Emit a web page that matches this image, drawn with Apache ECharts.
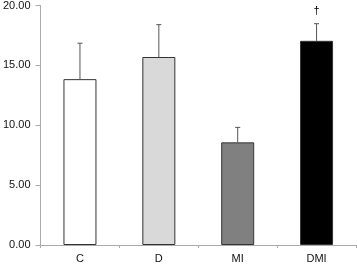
<!DOCTYPE html>
<html>
<head>
<meta charset="utf-8">
<style>html,body{margin:0;padding:0;background:#fff}#c{width:357px;height:264px}</style>
<script src="https://cdn.jsdelivr.net/npm/echarts@6/dist/echarts.min.js"></script>
</head>
<body>
<div id="c"></div>
<script>
const categories = ['C', 'D', 'MI', 'DMI'];
const means = [13.85, 15.7, 8.57, 17.05];
const errorTops = [16.85, 18.4, 9.82, 18.48];
const marks = ['', '', '', '†'];
const barColors = ['#ffffff', '#d9d9d9', '#808080', '#000000'];
const yTicks = [0, 5, 10, 15, 20];

const chart = echarts.init(document.getElementById('c'));
chart.setOption({
  animation: false,
  grid: {left: 40, right: 1, top: 5, bottom: 18},
  xAxis: {
    type: 'category',
    data: categories,
    axisLine: {lineStyle: {color: '#aaaaaa', width: 1}},
    axisTick: {show: true, length: 3, lineStyle: {color: '#aaaaaa'}},
    axisLabel: {color: '#111', fontFamily: 'Liberation Sans, Arial', fontSize: 11, margin: 8}
  },
  yAxis: {
    type: 'value',
    min: yTicks[0], max: yTicks[yTicks.length - 1], interval: 5,
    axisLine: {show: true, lineStyle: {color: '#aaaaaa', width: 1}},
    axisTick: {show: true, length: 5, lineStyle: {color: '#aaaaaa'}},
    splitLine: {show: false},
    axisLabel: {color: '#111', fontFamily: 'Liberation Sans, Arial', fontSize: 11, margin: 10,
      formatter: v => v.toFixed(2)}
  },
  series: [
    {
      type: 'bar',
      data: means.map((v, i) => ({value: v, itemStyle: {color: barColors[i]}})),
      barWidth: 33,
      itemStyle: {borderColor: '#333333', borderWidth: 1}
    },
    {
      type: 'custom',
      data: errorTops.map((v, i) => [i, means[i], v]),
      renderItem: function (params, api) {
        const i = api.value(0);
        const base = api.coord([i, api.value(1)]);
        const top = api.coord([i, api.value(2)]);
        const children = [
          {type: 'line', shape: {x1: base[0], y1: base[1], x2: top[0], y2: top[1]}, style: {stroke: '#555', lineWidth: 1}},
          {type: 'line', shape: {x1: top[0] - 2.5, y1: top[1], x2: top[0] + 2.5, y2: top[1]}, style: {stroke: '#555', lineWidth: 1}}
        ];
        if (marks[i]) {
          children.push({type: 'text', style: {text: marks[i], x: top[0], y: top[1] - 7, align: 'center', verticalAlign: 'bottom', fill: '#000', font: '11px Liberation Sans, Arial'}});
        }
        return {type: 'group', children: children};
      },
      z: 3
    }
  ]
});
</script>
</body>
</html>
